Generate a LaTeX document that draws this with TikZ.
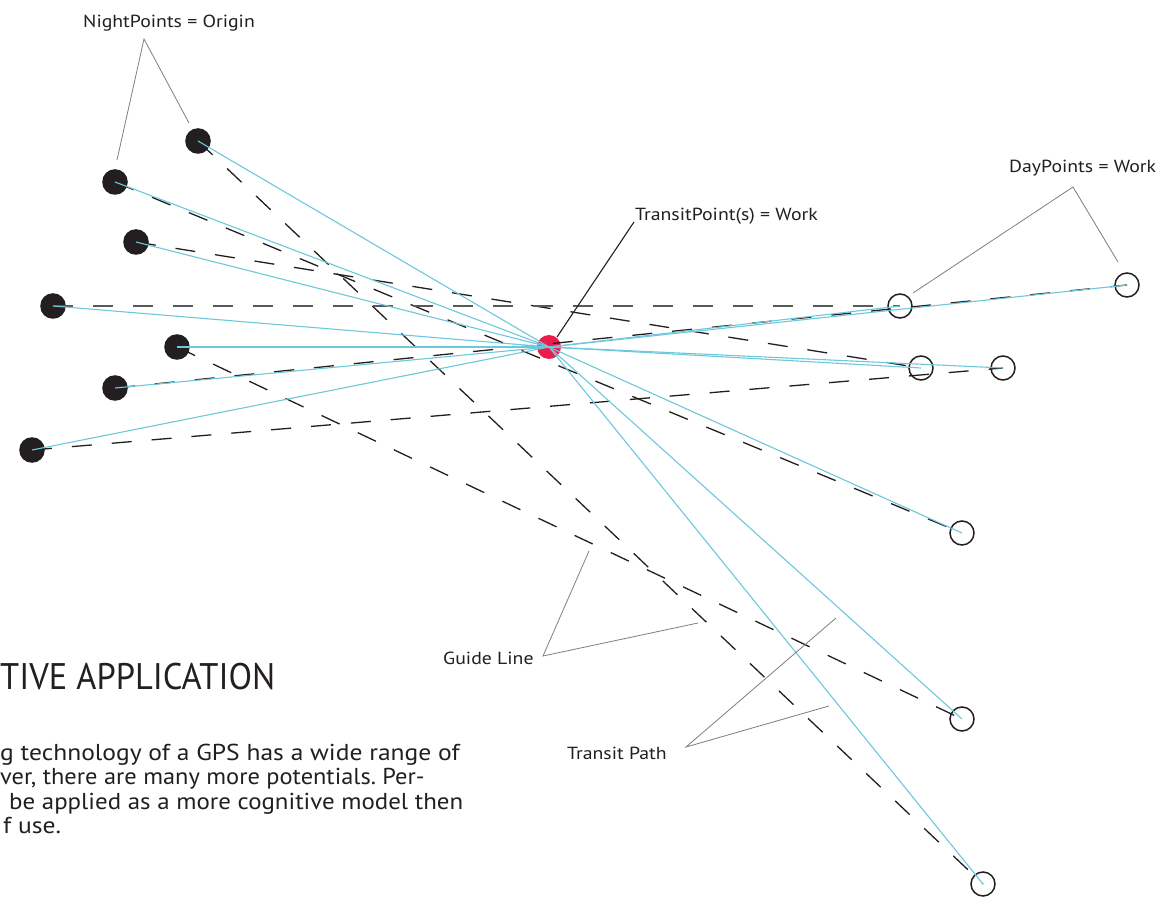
\documentclass[tikz,border=0pt]{standalone}
\usepackage{fontspec}
\setmainfont{PT Sans}
\newfontfamily\lblfont[FakeStretch=1.13]{PT Sans}
\newfontfamily\parafont[FakeStretch=1.11]{PT Sans}
\newfontfamily\ttlfont[FakeStretch=0.93]{PT Sans}
\frenchspacing
\definecolor{ink}{HTML}{231F20}
\definecolor{cyanline}{RGB}{109,200,219}
\definecolor{redpt}{HTML}{EC1C4E}
\definecolor{pgray}{HTML}{7F7F7F}
\definecolor{dgray}{HTML}{58595B}
\begin{document}
\begin{tikzpicture}[x=1pt,y=-1pt,
  night/.style={circle,fill=ink,draw=none,minimum size=25.6pt,inner sep=0pt},
  daypt/.style={circle,draw=ink,line width=1.5pt,minimum size=24pt,inner sep=0pt},
  transit/.style={circle,fill=redpt,draw=none,minimum size=24pt,inner sep=0pt},
  tpath/.style={draw=cyanline,line width=1.1pt},
  guide/.style={draw=ink,line width=1.3pt,dash pattern=on 20pt off 20pt},
  guidegray/.style={draw=dgray,line width=1.8pt,dash pattern=on 20pt off 20pt},
  pointer/.style={draw=pgray,line width=0.8pt},
  blackptr/.style={draw=ink,line width=1.1pt},
  lbl/.style={anchor=base west,inner sep=0pt,text=ink,font=\lblfont\fontsize{17.5}{20}\selectfont},
  para/.style={anchor=base west,inner sep=0pt,text=ink,font=\parafont\fontsize{23}{24.5}\selectfont},
  title/.style={anchor=base west,inner sep=0pt,text=ink,font=\ttlfont\fontsize{37}{40}\selectfont}]
\useasboundingbox[fill=white] (0,0) rectangle (1160,901);

% night points
\node[night] (n1) at (198,141) {};
\node[night] (n2) at (115,182) {};
\node[night] (n3) at (136,242) {};
\node[night] (n4) at (53,306) {};
\node[night] (n5) at (177,347) {};
\node[night] (n6) at (115,388) {};
\node[night] (n7) at (32,450) {};
% transit point
\node[transit] (t) at (549,347) {};
% day points
\node[daypt] (d1) at (900,306) {};
\node[daypt] (d2) at (1127,285) {};
\node[daypt] (d3) at (921,368) {};
\node[daypt] (d4) at (1003,368) {};
\node[daypt] (d5) at (962,533) {};
\node[daypt] (d6) at (962,719) {};
\node[daypt] (d7) at (983,884) {};

% guide lines
\draw[guide] (n1.center) -- (d7.center);
\draw[guide] (n2.center) -- (d5.center);
\draw[guide] (n3.center) -- (d3.center);
\draw[guidegray] (n4.center) -- (d1.center);
\draw[guide] (n5.center) -- (d6.center);
\draw[guide] (n6.center) -- (d2.center);
\draw[guide] (n7.center) -- (d4.center);

% transit paths
\foreach \n in {n1,n2,n3,n4,n5,n6,n7}{\draw[tpath] (\n.center) -- (t.center);}
\foreach \d in {d1,d2,d3,d4,d5,d6,d7}{\draw[tpath] (t.center) -- (\d.center);}

% labels
\node[lbl] (lnight) at (83,28) {NightPoints = Origin};
\node[lbl] (lday) at (1009,173) {DayPoints = Work};
\node[lbl] (ltransit) at (635,221) {TransitPoint(s) = Work};
\node[lbl] (lguide) at (443,664) {Guide Line};
\node[lbl] (lpath) at (567,759) {Transit Path};

% pointers
\coordinate (pn) at (144,39);
\coordinate (pn1) at (117,160);
\coordinate (pn2) at (189,123);
\draw[pointer] (pn1) -- (pn) -- (pn2);
\coordinate (pd) at (1073,187);
\coordinate (pd1) at (913,293);
\coordinate (pd2) at (1118,262);
\draw[pointer] (pd1) -- (pd) -- (pd2);
\coordinate (pt0) at (634,222);
\coordinate (pt1) at (557,337);
\draw[blackptr] (pt0) -- (pt1);
\coordinate (pg) at (543,656);
\coordinate (pg1) at (589,551);
\coordinate (pg2) at (698,623);
\draw[pointer] (pg1) -- (pg) -- (pg2);
\coordinate (pp) at (686,747);
\coordinate (pp1) at (836,618);
\coordinate (pp2) at (829,706);
\draw[pointer] (pp1) -- (pp) -- (pp2);

% text block
\node[title] (ttl) at (0,689) {TIVE APPLICATION};
\node[para] (p1) at (0,760) {g technology of a GPS has a wide range of};
\node[para] (p2) at (0,784) {\scalebox{0.955}[1]{ver, there are many more potentials. Per-}};
\node[para] (p3) at (9,809) {\scalebox{0.975}[1]{be applied as a more cognitive model then}};
\node[para] (p4) at (3,833) {f use.};
\end{tikzpicture}
\end{document}
